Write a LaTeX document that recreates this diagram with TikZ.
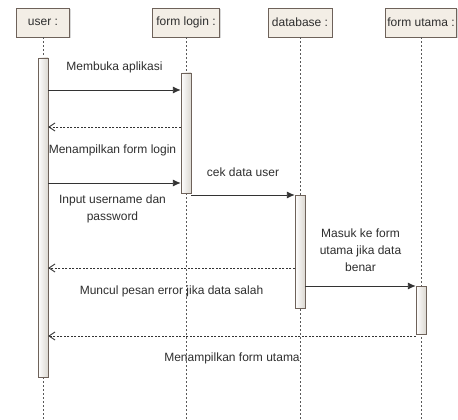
\documentclass[tikz,border=0pt]{standalone}
\usepackage{fontspec}
\setmainfont{Liberation Sans}
\usetikzlibrary{arrows.meta,shadows}
\definecolor{sqfill}{HTML}{F3EEE6}
\definecolor{sqline}{HTML}{6E625A}
\definecolor{sqtext}{HTML}{2E2E2E}

\begin{document}
\begin{tikzpicture}[x=1pt, y=-1pt,
    sqobj/.style={rectangle, draw=sqline, fill=sqfill, minimum height=29pt, inner sep=2pt, font=\fontsize{12}{14}\selectfont, text=sqtext, drop shadow={shadow xshift=1.2pt, shadow yshift=-1.2pt, fill=gray!60}},
    sqact/.style={rectangle, draw=sqline, left color=white, right color=sqfill!80!gray, minimum width=10pt, inner sep=0pt},
    sqlife/.style={draw=black!65, dash pattern=on 2pt off 2pt, line width=0.6pt},
    sqmsg/.style={-{Latex[length=8pt,width=7pt]}, draw=black!80, line width=0.9pt},
    sqret/.style={-{Straight Barb[length=6pt,width=8pt]}, draw=black!80, line width=0.9pt, dash pattern=on 2pt off 1.5pt},
    sqlbl/.style={font=\fontsize{12}{17}\selectfont, text=sqtext, align=center}
]
\useasboundingbox (0,0) rectangle (458,420);

% Objek
\node[sqobj, minimum width=53pt] (user) at (43, 22.5) {user :};
\node[sqobj, minimum width=67pt] (login) at (186, 22.5) {form login :};
\node[sqobj, minimum width=64pt] (db) at (300, 22.5) {database :};
\node[sqobj, minimum width=69pt] (utama) at (421, 22.5) {form utama :};

% Garis hidup
\coordinate (bottom) at (0, 420);
\draw[sqlife] (user.south) -- (user.south |- bottom);
\draw[sqlife] (login.south) -- (login.south |- bottom);
\draw[sqlife] (db.south) -- (db.south |- bottom);
\draw[sqlife] (utama.south) -- (utama.south |- bottom);

% Aktivasi
\node[sqact, minimum height=319pt] (uact) at (43, 217.5) {};
\node[sqact, minimum height=120pt] (lact) at (186, 133) {};
\node[sqact, minimum height=113pt] (dact) at (300, 251.5) {};
\node[sqact, minimum height=48pt] (tact) at (421, 310) {};

% Pesan
\coordinate (m1) at (0, 90);
\coordinate (m2) at (0, 127);
\coordinate (m3) at (0, 183);
\coordinate (m4) at (0, 195);
\coordinate (m5) at (0, 268);
\coordinate (m6) at (0, 286);
\coordinate (m7) at (0, 336);

\draw[sqmsg] (uact.east |- m1) -- node[sqlbl, yshift=23pt] {Membuka aplikasi} (lact.west |- m1);
\draw[sqret] (lact.west |- m2) -- node[sqlbl, yshift=-23pt, xshift=-2pt] {Menampilkan form login} (uact.east |- m2);
\draw[sqmsg] (uact.east |- m3) -- node[sqlbl, yshift=-25.5pt, xshift=-2pt] {Input username dan\\password} (lact.west |- m3);
\draw[sqmsg] (lact.east |- m4) -- node[sqlbl, yshift=23pt] {cek data user} (dact.west |- m4);
\draw[sqret] (dact.west |- m5) -- node[sqlbl, yshift=-23pt] {Muncul pesan error jika data salah} (uact.east |- m5);
\draw[sqmsg] (dact.east |- m6) -- node[sqlbl, yshift=35.5pt] {Masuk ke form\\utama jika data\\benar} (tact.west |- m6);
\draw[sqret] (tact.west |- m7) -- node[sqlbl, yshift=-22pt] {Menampilkan form utama} (uact.east |- m7);

\end{tikzpicture}
\end{document}
